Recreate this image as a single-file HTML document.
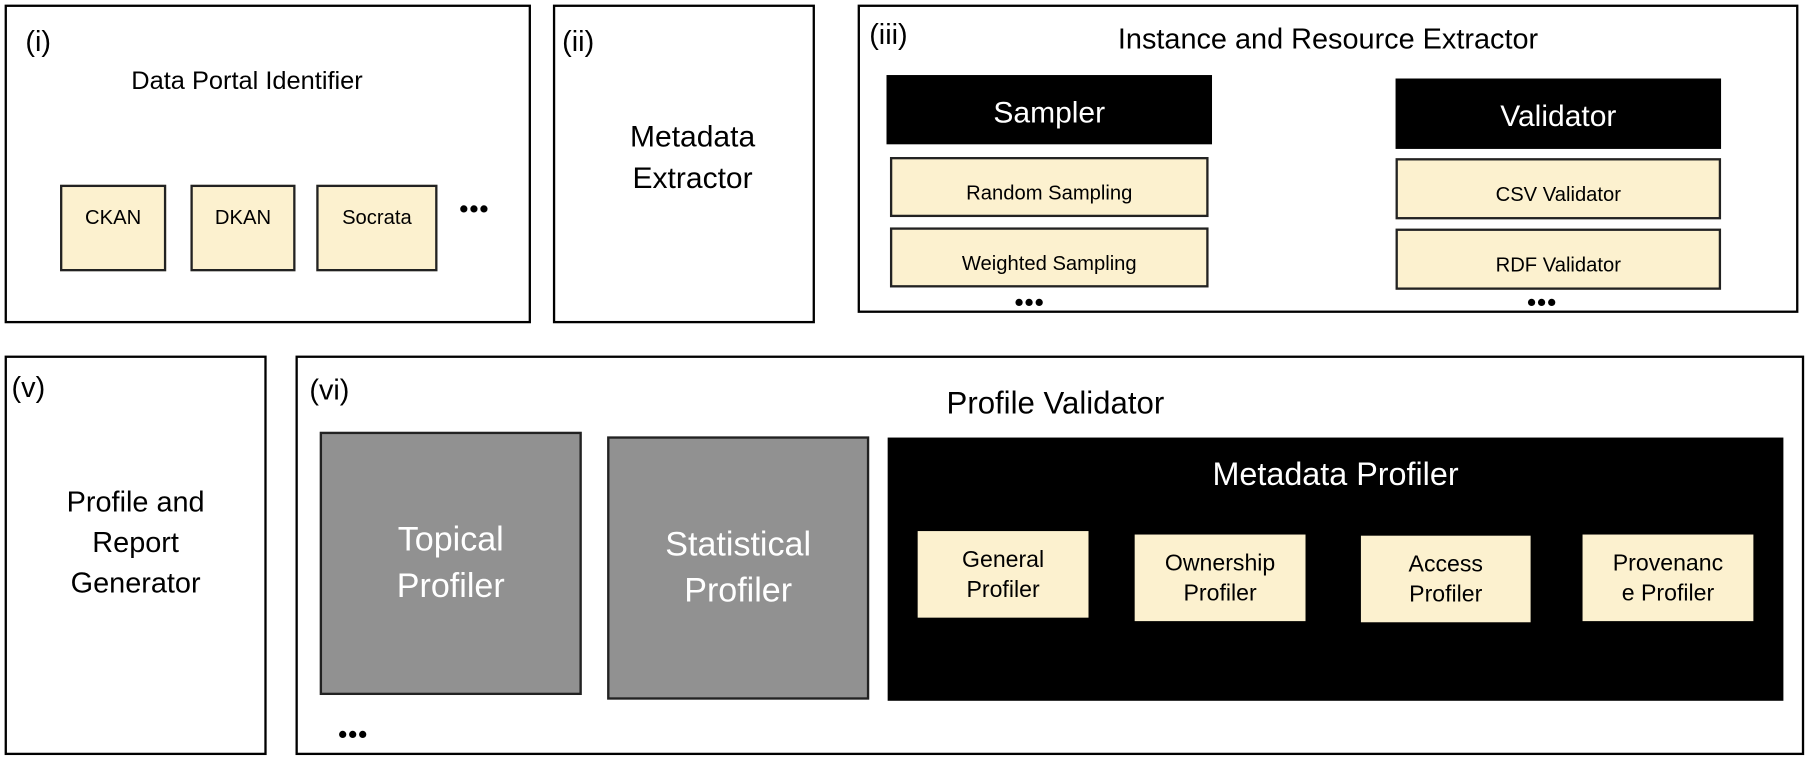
<!DOCTYPE html><html><head><style>
body{margin:0;width:1810px;height:762px;overflow:hidden;background:#fff;font-family:"Liberation Sans",sans-serif}
#w{position:absolute;left:0;top:0;width:1568px;height:660px;transform:scale(1.1543,1.1545);transform-origin:0 0}
.b{position:absolute;box-sizing:border-box;border:2px solid #000}
.t{position:absolute;text-align:center;white-space:nowrap}
.y{position:absolute;box-sizing:border-box;background:#fcf1cf;border:2px solid #222;display:flex;align-items:center;justify-content:center;text-align:center;font-size:17.5px;padding-top:10px}
.k{position:absolute;background:#000;color:#fff;display:flex;align-items:center;justify-content:center;font-size:26px;padding-top:4px;box-sizing:border-box}
.g{position:absolute;box-sizing:border-box;background:#919191;border:2px solid #222;color:#fff;display:flex;align-items:center;justify-content:center;text-align:center;font-size:29.5px;line-height:40px}
.l{position:absolute;font-size:25px}
.d{position:absolute;font-size:22px;font-weight:bold;letter-spacing:1px}
</style></head><body><div id="w">
<div class="b" style="left:4px;top:4px;width:456px;height:276px"></div>
<div class="l" style="left:22px;top:22px">(i)</div>
<div class="t" style="left:4px;top:57px;width:420px;font-size:22px">Data Portal Identifier</div>
<div class="y" style="left:52px;top:160px;width:92px;height:75px;align-items:flex-start;padding-top:16px">CKAN</div>
<div class="y" style="left:165px;top:160px;width:91px;height:75px;align-items:flex-start;padding-top:16px">DKAN</div>
<div class="y" style="left:274px;top:160px;width:105px;height:75px;align-items:flex-start;padding-top:16px">Socrata</div>
<div class="d" style="left:398px;top:168px">•••</div>
<div class="b" style="left:479px;top:4px;width:227px;height:276px"></div>
<div class="l" style="left:487px;top:22px">(ii)</div>
<div class="t" style="left:479px;top:100px;width:242px;font-size:26px;line-height:36px">Metadata<br>Extractor</div>
<div class="b" style="left:743px;top:4px;width:815px;height:267px"></div>
<div class="l" style="left:753px;top:16px">(iii)</div>
<div class="t" style="left:743px;top:20px;width:815px;font-size:25px;padding-right:10px">Instance and Resource Extractor</div>
<div class="k" style="left:768px;top:65px;width:282px;height:60px">Sampler</div>
<div class="y" style="left:771px;top:136px;width:276px;height:52px">Random Sampling</div>
<div class="y" style="left:771px;top:197px;width:276px;height:52px">Weighted Sampling</div>
<div class="d" style="left:879px;top:249px">•••</div>
<div class="k" style="left:1209px;top:68px;width:282px;height:61px">Validator</div>
<div class="y" style="left:1209px;top:137px;width:282px;height:53px">CSV Validator</div>
<div class="y" style="left:1209px;top:198px;width:282px;height:53px">RDF Validator</div>
<div class="d" style="left:1323px;top:249px">•••</div>
<div class="b" style="left:4px;top:308px;width:227px;height:346px"></div>
<div class="l" style="left:10px;top:322px">(v)</div>
<div class="t" style="left:4px;top:418px;width:227px;font-size:25px;line-height:35px">Profile and<br>Report<br>Generator</div>
<div class="b" style="left:256px;top:308px;width:1307px;height:346px"></div>
<div class="l" style="left:268px;top:324px">(vi)</div>
<div class="t" style="left:820px;top:334px;font-size:27px">Profile Validator</div>
<div class="g" style="left:277px;top:374px;width:227px;height:228px">Topical<br>Profiler</div>
<div class="g" style="left:526px;top:378px;width:227px;height:228px">Statistical<br>Profiler</div>
<div class="k" style="left:769px;top:379px;width:776px;height:228px;align-items:flex-start;padding-top:16px;font-size:28px">Metadata Profiler</div>
<div class="y" style="left:795px;top:460px;width:148px;height:75px;font-size:20px;line-height:26px;border:none;padding-top:0">General<br>Profiler</div>
<div class="y" style="left:983px;top:463px;width:148px;height:75px;font-size:20px;line-height:26px;border:none;padding-top:0">Ownership<br>Profiler</div>
<div class="y" style="left:1179px;top:464px;width:147px;height:75px;font-size:20px;line-height:26px;border:none;padding-top:0">Access<br>Profiler</div>
<div class="y" style="left:1371px;top:463px;width:148px;height:75px;font-size:20px;line-height:26px;border:none;padding-top:0">Provenanc<br>e Profiler</div>
<div class="d" style="left:293px;top:623px">•••</div>
</div></body></html>
